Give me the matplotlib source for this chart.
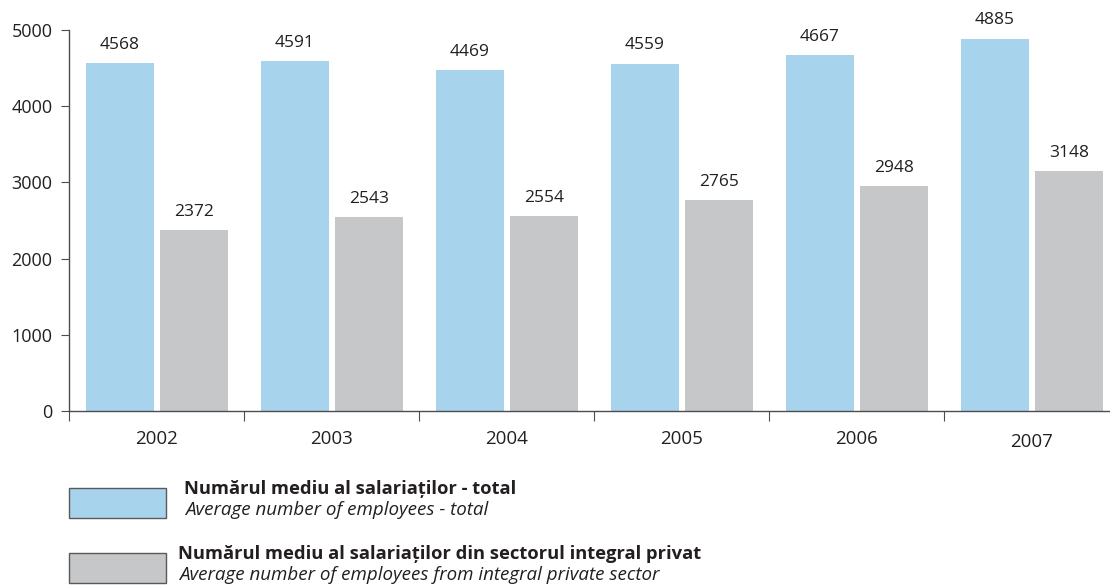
import matplotlib
matplotlib.use('Agg')
import matplotlib.pyplot as plt
from matplotlib.patches import Rectangle

plt.rcParams['font.family'] = ['Open Sans', 'DejaVu Sans']

# date
years = ['2002', '2003', '2004', '2005', '2006', '2007']
total = [4568, 4591, 4469, 4559, 4667, 4885]
privat = [2372, 2543, 2554, 2765, 2948, 3148]

blue = '#a7d3ec'
gray = '#c6c7c9'
txt = '#231f20'
axcol = '#4d4d4f'

fig = plt.figure(figsize=(11.1, 5.86), dpi=100)
ax = fig.add_axes([69/1110, 175/586, 1 - 69/1110, 381/586])

x = list(range(len(years)))
w = 0.39
ax.bar([i + 0.29 for i in x], total, w, color=blue)
ax.bar([i + 0.715 for i in x], privat, w, color=gray)

for i in x:
    ax.annotate(str(total[i]), (i + 0.29, total[i]), xytext=(0, 7.5), textcoords='offset points',
                ha='center', va='bottom', fontsize=12.5, color=txt)
    ax.annotate(str(privat[i]), (i + 0.715, privat[i]), xytext=(0, 7.5), textcoords='offset points',
                ha='center', va='bottom', fontsize=12.5, color=txt)

ax.set_xlim(0, 1041/175)
ax.set_ylim(0, 5000)
ax.set_yticks([0, 1000, 2000, 3000, 4000, 5000])
ax.set_xticks(x)
ax.set_xticklabels([])
ax.set_xticks([i + 0.5 for i in x], minor=True)
ax.set_xticklabels(years, minor=True)
ax.tick_params(axis='x', which='minor', length=0, pad=14, labelsize=13.5, labelcolor=txt)
ax.tick_params(axis='x', which='major', length=7, color=axcol, direction='out')
ax.tick_params(axis='y', length=6, color=axcol, labelsize=13, labelcolor=txt, pad=6)
for s in ['top', 'right']:
    ax.spines[s].set_visible(False)
for s in ['left', 'bottom']:
    ax.spines[s].set_color(axcol)
    ax.spines[s].set_linewidth(1)
# 2007 label sits a bit lower
ax.get_xticklabels(minor=True)[-1].set_y(-0.008)

# legenda
def px(xp, yp):
    return xp / 1110, 1 - yp / 586

for (y0, col, bold, ital, tx) in [
        (488, blue, 'Numărul mediu al salariaților - total', 'Average number of employees - total', 184),
        (553, gray, 'Numărul mediu al salariaților din sectorul integral privat',
         'Average number of employees from integral private sector', 178)]:
    fig.patches.append(Rectangle(px(69, y0 + 30), 97/1110, 30/586, transform=fig.transFigure,
                                 facecolor=col, edgecolor='#58595b', linewidth=1))
    fig.text(*px(tx, y0 + 1), bold, fontsize=13.2, fontweight='bold', color=txt, va='center')
    fig.text(*px(tx + 1, y0 + 22), ital, fontsize=13.5, style='italic', color=txt, va='center')

plt.savefig('out.png', dpi=100)
